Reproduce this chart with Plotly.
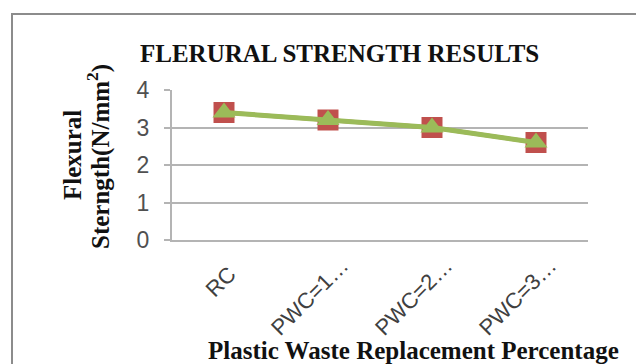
import plotly.graph_objects as go

categories = ["RC", "PWC=1…", "PWC=2…", "PWC=3…"]
tick_labels = ["RC\u00a0\u00a0", "PWC=1…", "PWC=2…", "PWC=3…"]
series_a = [3.4, 3.2, 3.0, 2.6]
series_b = [3.4, 3.2, 3.0, 2.6]
y_ticks = [0, 1, 2, 3, 4]

RED = "#C0504D"
GREEN = "#9BBB59"
GRID = "#B4B4B4"

fig = go.Figure()
fig.add_trace(go.Scatter(
    x=categories, y=series_a, mode="lines+markers",
    line=dict(color=RED, width=4),
    marker=dict(symbol="square", size=21, color=RED),
    showlegend=False))
fig.add_trace(go.Scatter(
    x=categories, y=series_b, mode="lines+markers",
    line=dict(color=GREEN, width=5),
    marker=dict(symbol="triangle-up", size=20, color=GREEN),
    showlegend=False))

L, R, T, B = 172, 48, 90, 124
W, H = 636, 364
pw, ph = W - L - R, H - T - B

def px_x(x):
    return (x - L) / pw

def px_y(y):
    return 1 - (y - T) / ph

SERIF = "Liberation Serif"

fig.update_layout(
    width=W, height=H,
    margin=dict(l=L, r=R, t=T, b=B),
    paper_bgcolor="white", plot_bgcolor="white",
    xaxis=dict(
        type="category", tickangle=-45, showgrid=False,
        tickvals=categories, ticktext=tick_labels,
        showline=True, linecolor=GRID, linewidth=2,
        tickfont=dict(family="Liberation Sans", size=22, color="#404040"),
        ticklabelshift=14, ticklabelstandoff=2,
        ticks="", range=[-0.5, 3.5]),
    yaxis=dict(
        range=[0, 4], tickvals=y_ticks, showgrid=True, gridcolor=GRID, gridwidth=2,
        showline=True, linecolor=GRID, linewidth=2, zeroline=False,
        ticks="outside", ticklen=6, tickcolor=GRID, tickwidth=2,
        ticklabelstandoff=10,
        tickfont=dict(family="Liberation Sans", size=23, color="#505050")),
    shapes=[dict(type="rect", xref="paper", yref="paper",
                 x0=px_x(12), y0=px_y(600), x1=px_x(800), y1=px_y(14),
                 line=dict(color="#8C8C8C", width=2), layer="below")],
    annotations=[
        dict(text="FLERURAL STRENGTH RESULTS", xref="paper", yref="paper",
             x=px_x(339), y=px_y(53), showarrow=False, xanchor="center", yanchor="middle",
             font=dict(family=SERIF, size=25, color="#111111", weight="bold")),
        dict(text="Flexural", xref="paper", yref="paper",
             x=px_x(72), y=px_y(155), showarrow=False, textangle=-90,
             xanchor="center", yanchor="middle",
             font=dict(family=SERIF, size=25, color="#111111", weight="bold")),
        dict(text="Sterngth(N/mm<sup>2</sup>)", xref="paper", yref="paper",
             x=px_x(98), y=px_y(157), showarrow=False, textangle=-90,
             xanchor="center", yanchor="middle",
             font=dict(family=SERIF, size=25, color="#111111", weight="bold")),
        dict(text="Plastic Waste Replacement Percentage", xref="paper", yref="paper",
             x=px_x(413), y=px_y(350), showarrow=False, xanchor="center", yanchor="middle",
             font=dict(family=SERIF, size=25, color="#111111", weight="bold")),
    ],
)

fig.write_html("out.html", config={"displayModeBar": False},
               post_script="document.body.style.margin='0';document.body.style.overflow='hidden';")
